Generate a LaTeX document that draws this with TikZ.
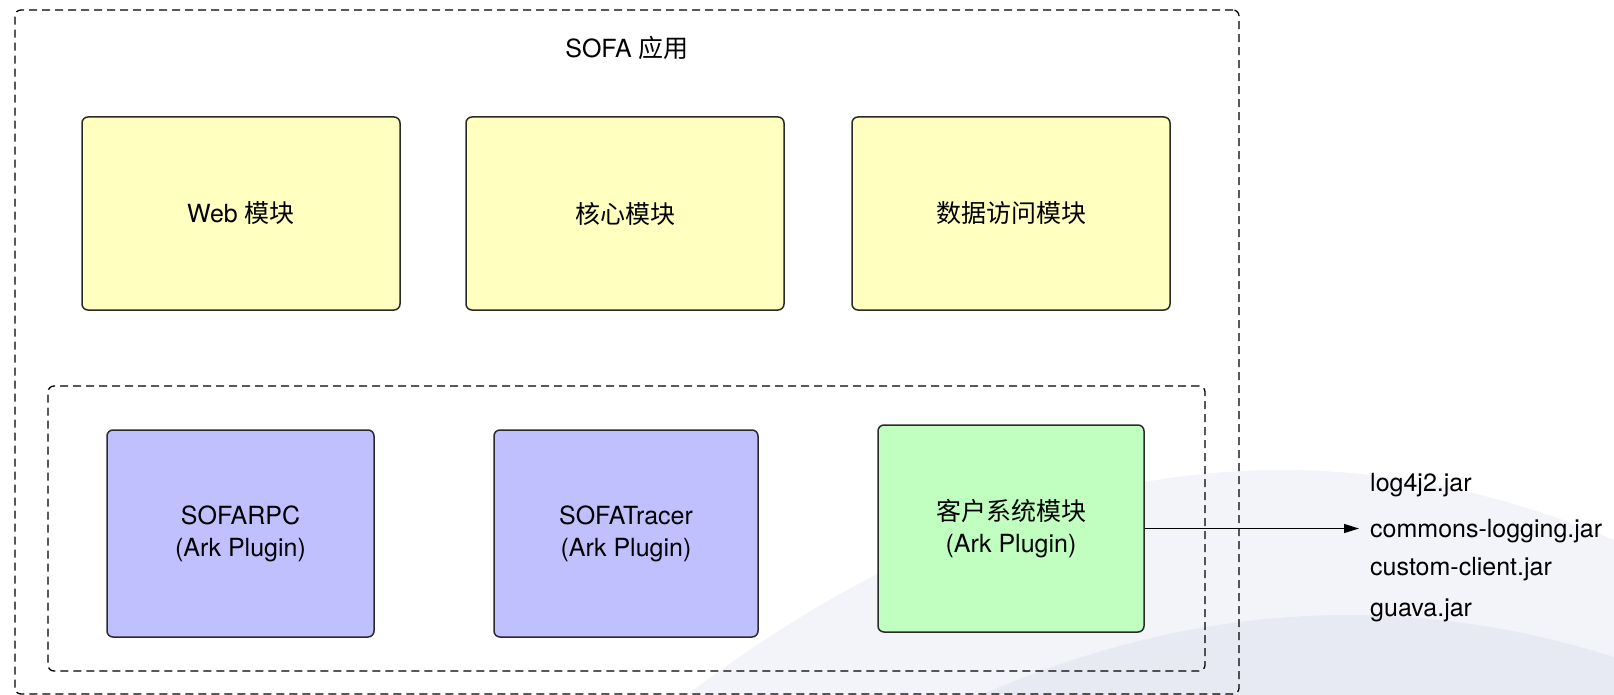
\documentclass[tikz,border=0pt]{standalone}
\usepackage{fontspec}
\setmainfont{TeX Gyre Heros}
\newfontfamily\cjk{Noto Sans CJK SC}
\usetikzlibrary{arrows.meta}
\definecolor{bgone}{HTML}{F3F4F9}
\definecolor{bgtwo}{HTML}{E7E9F3}
\definecolor{yelfill}{HTML}{FFFFC0}
\definecolor{purfill}{HTML}{C0C0FF}
\definecolor{grnfill}{HTML}{C0FFC0}
\definecolor{edge}{HTML}{2A2A2A}
\tikzset{
  txt/.style={font=\fontsize{25}{32}\selectfont, text=black, align=center, inner sep=0pt},
  modbox/.style={txt, draw=edge, line width=1.5pt, rounded corners=6pt},
  yelbox/.style={modbox, fill=yelfill, minimum width=318pt, minimum height=193pt},
  purbox/.style={modbox, fill=purfill, minimum height=207pt},
  grnbox/.style={modbox, fill=grnfill, minimum width=266pt, minimum height=207pt},
  dashbox/.style={draw=black, line width=1.3pt, dash pattern=on 8pt off 5pt, rounded corners=6pt, inner sep=0pt},
  jar/.style={txt, anchor=base west}
}
\begin{document}
\begin{tikzpicture}[x=1pt,y=-1pt]
\useasboundingbox (0,0) rectangle (1614,695);
\fill[white] (0,0) rectangle (1614,695);
% background arcs
\fill[bgone] plot[domain=685:1614, samples=60] (\x, {470+6.35*((\x-1282)/100)^2}) -- (1614,695) -- (685,695) -- cycle;
\fill[bgtwo] plot[domain=975:1614, samples=60] (\x, {615+5.94*((\x-1348)/100)^2}) -- (1614,695) -- (975,695) -- cycle;
% containers
\node[dashbox, minimum width=1224pt, minimum height=684pt] (app) at (627,352) {};
\node[dashbox, minimum width=1157pt, minimum height=285pt] (plugins) at (626.5,528.5) {};
\node[txt, anchor=base] (title) at (627,58) {SOFA {\cjk 应用}};
% modules
\node[yelbox] (web) at (241,213.5) {Web {\cjk 模块}};
\node[yelbox] (core) at (625,213.5) {{\cjk 核心模块}};
\node[yelbox] (data) at (1011,213.5) {{\cjk 数据访问模块}};
% plugins
\node[purbox, minimum width=267pt] (rpc) at (240.5,533.5) {SOFARPC\\(Ark Plugin)};
\node[purbox, minimum width=264pt] (tracer) at (626,533.5) {SOFATracer\\(Ark Plugin)};
\node[grnbox] (client) at (1011,528.5) {{\cjk 客户系统模块}\\(Ark Plugin)};
% jars
\node[jar] (log4j) at (1370,491) {log4j2.jar};
\node[jar] (commons) at (1370,537) {commons-logging.jar};
\node[jar] (custom) at (1370,575) {custom-client.jar};
\node[jar] (guava) at (1370,616) {guava.jar};
% connector
\draw[line width=1.3pt, -{Triangle[length=15pt, width=9pt]}] (client.east) -- ([xshift=-11pt]client.east -| commons.west);
\end{tikzpicture}
\end{document}
